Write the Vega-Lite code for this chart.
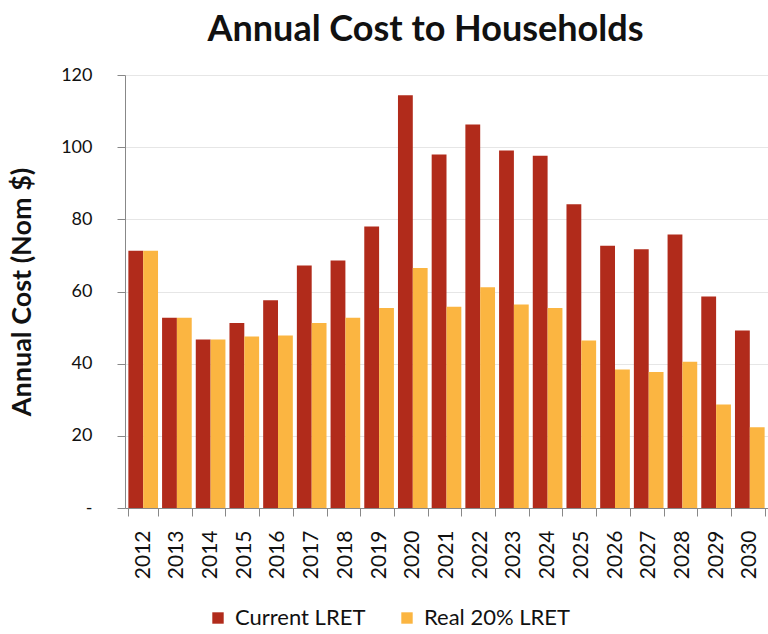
{
  "$schema": "https://vega.github.io/schema/vega-lite/v6.json",
  "autosize": "none",
  "width": 643,
  "height": 433,
  "padding": {"left": 125, "top": 75, "right": 0, "bottom": 126},
  "background": "white",
  "title": {
    "text": "Annual Cost to Households",
    "font": "Lato",
    "fontSize": 36,
    "fontWeight": "bold",
    "color": "#111111",
    "anchor": "middle",
    "dx": -21,
    "offset": 17
  },
  "data": {
    "values": [
      {"year": "2012", "series": "Current LRET", "value": 71.3},
      {"year": "2012", "series": "Real 20% LRET", "value": 71.3},
      {"year": "2013", "series": "Current LRET", "value": 52.7},
      {"year": "2013", "series": "Real 20% LRET", "value": 52.7},
      {"year": "2014", "series": "Current LRET", "value": 46.7},
      {"year": "2014", "series": "Real 20% LRET", "value": 46.7},
      {"year": "2015", "series": "Current LRET", "value": 51.3},
      {"year": "2015", "series": "Real 20% LRET", "value": 47.5},
      {"year": "2016", "series": "Current LRET", "value": 57.6},
      {"year": "2016", "series": "Real 20% LRET", "value": 47.8},
      {"year": "2017", "series": "Current LRET", "value": 67.2},
      {"year": "2017", "series": "Real 20% LRET", "value": 51.3},
      {"year": "2018", "series": "Current LRET", "value": 68.6},
      {"year": "2018", "series": "Real 20% LRET", "value": 52.7},
      {"year": "2019", "series": "Current LRET", "value": 78.0},
      {"year": "2019", "series": "Real 20% LRET", "value": 55.4},
      {"year": "2020", "series": "Current LRET", "value": 114.4},
      {"year": "2020", "series": "Real 20% LRET", "value": 66.5},
      {"year": "2021", "series": "Current LRET", "value": 98.0},
      {"year": "2021", "series": "Real 20% LRET", "value": 55.8},
      {"year": "2022", "series": "Current LRET", "value": 106.3},
      {"year": "2022", "series": "Real 20% LRET", "value": 61.2},
      {"year": "2023", "series": "Current LRET", "value": 99.1},
      {"year": "2023", "series": "Real 20% LRET", "value": 56.4},
      {"year": "2024", "series": "Current LRET", "value": 97.6},
      {"year": "2024", "series": "Real 20% LRET", "value": 55.4},
      {"year": "2025", "series": "Current LRET", "value": 84.2},
      {"year": "2025", "series": "Real 20% LRET", "value": 46.4},
      {"year": "2026", "series": "Current LRET", "value": 72.7},
      {"year": "2026", "series": "Real 20% LRET", "value": 38.4},
      {"year": "2027", "series": "Current LRET", "value": 71.7},
      {"year": "2027", "series": "Real 20% LRET", "value": 37.7},
      {"year": "2028", "series": "Current LRET", "value": 75.8},
      {"year": "2028", "series": "Real 20% LRET", "value": 40.5},
      {"year": "2029", "series": "Current LRET", "value": 58.6},
      {"year": "2029", "series": "Real 20% LRET", "value": 28.7},
      {"year": "2030", "series": "Current LRET", "value": 49.2},
      {"year": "2030", "series": "Real 20% LRET", "value": 22.4}
    ]
  },
  "mark": {"type": "bar"},
  "encoding": {
    "x": {
      "field": "year",
      "type": "nominal",
      "scale": {"paddingInner": 0.12, "paddingOuter": 0.1},
      "axis": {
        "title": null,
        "labelAngle": -90,
        "labelAlign": "right",
        "labelBaseline": "middle",
        "labelFont": "Lato",
        "labelFontSize": 21,
        "labelColor": "#111111",
        "labelPadding": 14,
        "tickBand": "extent",
        "tickSize": 8,
        "tickColor": "#888888",
        "domainColor": "#888888",
        "grid": false
      }
    },
    "xOffset": {
      "field": "series",
      "type": "nominal",
      "scale": {"domain": ["Current LRET", "Real 20% LRET"], "paddingInner": 0, "paddingOuter": 0}
    },
    "y": {
      "field": "value",
      "type": "quantitative",
      "scale": {"domain": [0, 120]},
      "axis": {
        "title": "Annual Cost (Nom $)",
        "titleFont": "Lato",
        "titleFontSize": 27,
        "titleFontWeight": "bold",
        "titleColor": "#111111",
        "titlePadding": 24,
        "values": [0, 20, 40, 60, 80, 100, 120],
        "labelExpr": "datum.value == 0 ? '-' : datum.label",
        "labelFont": "Lato",
        "labelFontSize": 18,
        "labelColor": "#111111",
        "labelPadding": 25,
        "tickSize": 8,
        "tickColor": "#888888",
        "domainColor": "#888888",
        "grid": true,
        "gridColor": "#e6e6e6"
      }
    },
    "color": {
      "field": "series",
      "type": "nominal",
      "scale": {"domain": ["Current LRET", "Real 20% LRET"], "range": ["#B12B1B", "#FBB541"]},
      "legend": {
        "title": null,
        "orient": "none",
        "legendX": 82,
        "legendY": 532,
        "direction": "horizontal",
        "symbolType": "square",
        "symbolSize": 130,
        "symbolStrokeWidth": 0,
        "labelFont": "Lato",
        "labelFontSize": 22,
        "labelColor": "#111111",
        "labelOffset": 6,
        "columnPadding": 30
      }
    }
  },
  "config": {"view": {"stroke": null}}
}
